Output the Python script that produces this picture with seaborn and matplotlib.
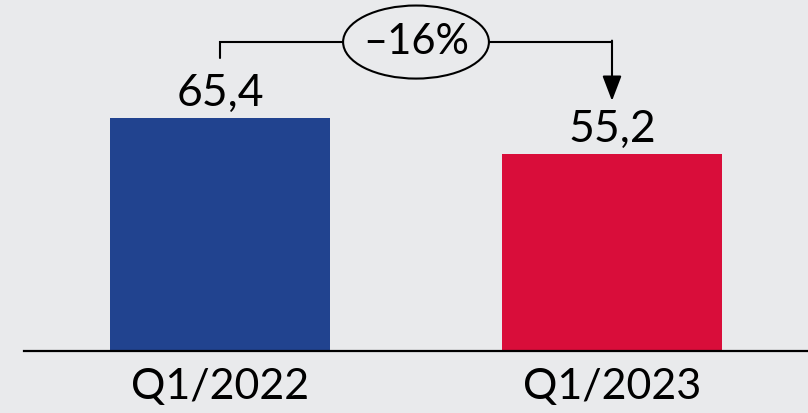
import matplotlib
matplotlib.use('Agg')
import matplotlib.pyplot as plt
import seaborn as sns
import pandas as pd
from matplotlib.patches import Ellipse

# data
quarters = ['Q1/2022', 'Q1/2023']
values = [65.4, 55.2]
change_label = '–16%'
bar_colors = ['#21438F', '#D90D3A']
bg = '#E9EAEC'

sns.set_theme(style='white')
plt.rcParams['font.family'] = ['Lato', 'DejaVu Sans']

df = pd.DataFrame({'quarter': quarters, 'value': values})

fig = plt.figure(figsize=(8.08, 4.13), dpi=100, facecolor=bg)
ax = fig.add_axes([24 / 808, 62 / 413, 784 / 808, 351 / 413])
ax.set_facecolor(bg)

sns.barplot(data=df, x='quarter', y='value', hue='quarter', palette=bar_colors,
            width=0.56, saturation=1, legend=False, linewidth=0,
            edgecolor='none', ax=ax)

ax.set_xlim(-0.5, 1.5)
ax.set_ylim(0, 98.5)
for s in ['top', 'right', 'left']:
    ax.spines[s].set_visible(False)
ax.spines['bottom'].set_color('black')
ax.spines['bottom'].set_linewidth(1.6)
ax.spines['bottom'].set_zorder(5)
ax.set_yticks([])
ax.set_xlabel('')
ax.set_ylabel('')
ax.tick_params(axis='x', length=0, pad=12, labelsize=31, labelcolor='black')

# value labels
for i, v in enumerate(values):
    ax.text(i, v + 3.4, f'{v:.1f}'.replace('.', ','), ha='center', va='baseline',
            fontsize=32, color='black')

# change bracket
y_line = 86.7
ax.plot([0, 0, 1], [values[0] + 16.8, y_line, y_line], color='black', lw=1.5,
        solid_joinstyle='miter', zorder=3)
ax.annotate('', xy=(1, values[1] + 15.0), xytext=(1, y_line + 0.4),
            arrowprops=dict(arrowstyle='-|>,head_length=1.1,head_width=0.42',
                            color='black', lw=1.5, shrinkA=0, shrinkB=0,
                            mutation_scale=14), zorder=3)
ax.add_patch(Ellipse((0.5, y_line), 0.372, 20.5, facecolor=bg, edgecolor='black',
                     lw=1.5, zorder=4, clip_on=False))
ax.text(0.5, y_line, change_label, ha='center', va='center', fontsize=30,
        color='black', zorder=5)

fig.savefig('out.png', dpi=100, facecolor=bg)
